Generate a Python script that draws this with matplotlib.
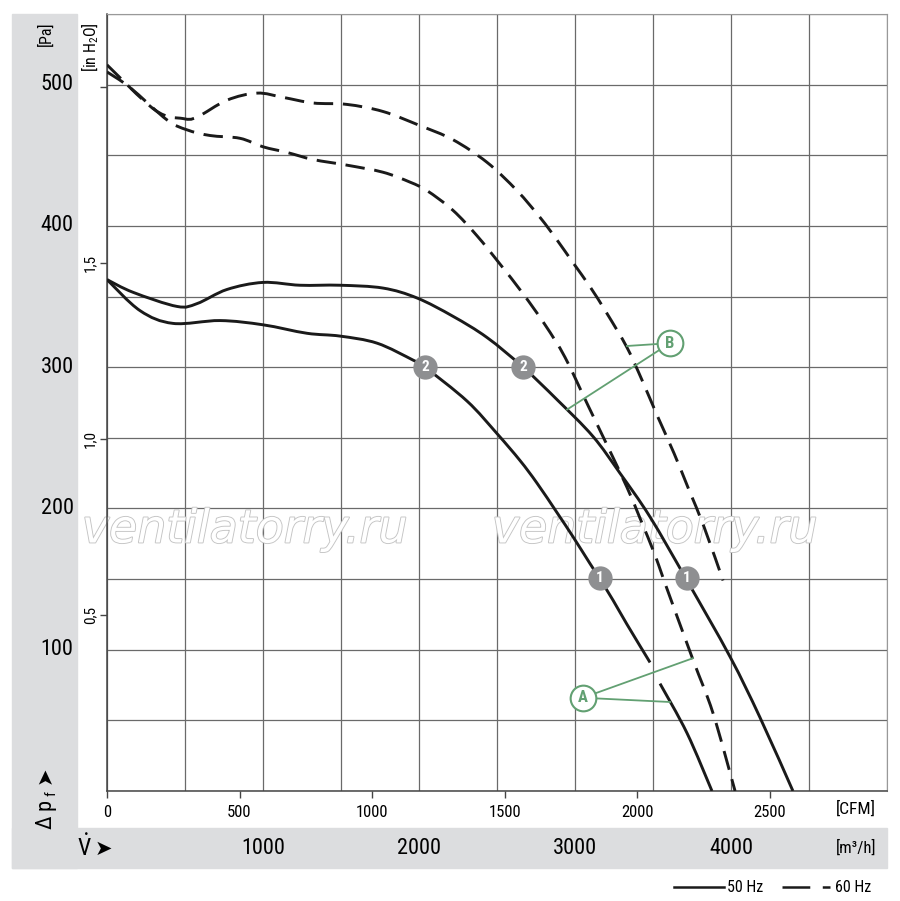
import numpy as np
import matplotlib
matplotlib.use("Agg")
import matplotlib.pyplot as plt
import matplotlib.font_manager as fm
import matplotlib.patheffects as pe
from matplotlib.patches import Rectangle, PathPatch
from matplotlib.path import Path
from matplotlib.lines import Line2D
from matplotlib.transforms import blended_transform_factory as blend

names = set(fm.get_font_names())
main_font = next((f for f in ['Liberation Sans Narrow', 'Roboto Condensed', 'Roboto'] if f in names), 'DejaVu Sans')
plt.rcParams['font.family'] = [main_font, 'DejaVu Sans']
plt.rcParams['mathtext.fontset'] = 'custom'
plt.rcParams['mathtext.rm'] = main_font
plt.rcParams['lines.scale_dashes'] = False

# flow in m3/h, pressure in Pa
flow_60_a = [0, 308, 487, 577, 769, 962, 1128, 1321, 1538, 1769, 2006, 2218, 2436, 2628, 2776,
             2885, 2987, 3096, 3205, 3333, 3429, 3526, 3635, 3731, 3827, 3949]
pres_60_a = [514, 482, 476, 477, 489, 494, 491, 487, 486, 481, 471, 461, 445, 425, 406,
             390, 374, 357, 338, 314, 291, 266, 239, 213, 187, 149]

flow_60_b = [0, 147, 385, 513, 660, 853, 1000, 1154, 1321, 1538, 1769, 1942, 2051, 2218, 2372,
             2519, 2667, 2808, 2936, 3083, 3205, 3333, 3417, 3513, 3577, 3756, 3885, 4026]
pres_60_b = [509, 498, 475, 468, 464, 462, 456, 452, 447, 443, 438, 431, 425, 411, 393,
             373, 352, 330, 307, 273, 245, 215, 193, 167, 147, 93, 55, 0]

flow_50_a = [0, 167, 449, 577, 769, 1000, 1237, 1494, 1769, 1987, 2218, 2436, 2667, 2885,
             3115, 3288, 3481, 3718, 3994, 4186, 4397]
pres_50_a = [362, 353, 343, 345, 355, 360, 358, 358, 356, 349, 336, 321, 300, 277,
             251, 225, 194, 149, 95, 52, 0]

flow_50_b = [0, 212, 423, 724, 1000, 1282, 1494, 1731, 1962, 2038, 2308, 2500, 2647, 2756,
             2885, 2987, 3096, 3160, 3244, 3333, 3481, np.nan, 3545, 3718, 3878]
pres_50_b = [362, 340, 331, 333, 330, 324, 322, 317, 305, 300, 276, 253, 234, 218,
             197, 180, 161, 150, 135, 118, 91, np.nan, 76, 41, 0]

marker_flow = [2038, 2667, 3160, 3718]
marker_pres = [300, 300, 151, 151]
marker_text = ['2', '2', '1', '1']

callouts = {
    'B': ((3609, 317), [(3333, 315), (2949, 270)]),
    'A': ((3051, 66), [(3756, 94), (3609, 63)]),
}

pa_labels = [100, 200, 300, 400, 500]
inh2o_ticks = [0.5, 1.0, 1.5, 2.0]
inh2o_labels = ['0,5', '1,0', '1,5', '']
cfm_ticks = [0, 500, 1000, 1500, 2000, 2500]
m3h_labels = [1000, 2000, 3000, 4000]

W, H = 900, 901
fig = plt.figure(figsize=(9, 9.01), dpi=100)


def fx(px):
    return px / W


def fy(py):
    return 1 - py / H


def smooth_path(xs, ys):
    # catmull-rom through the read points, drawn as cubic bezier pieces
    xs = np.asarray(xs, float)
    ys = np.asarray(ys, float)
    verts, codes = [], []
    breaks = np.where(np.isnan(xs))[0]
    starts = np.r_[0, breaks + 1]
    ends = np.r_[breaks, len(xs)]
    for s, e in zip(starts, ends):
        p = np.column_stack([xs[s:e], ys[s:e]])
        n = len(p)
        verts.append(p[0]); codes.append(Path.MOVETO)
        for i in range(n - 1):
            p0 = p[i - 1] if i > 0 else p[i]
            p3 = p[i + 2] if i + 2 < n else p[i + 1]
            c1 = p[i] + (p[i + 1] - p0) / 6
            c2 = p[i + 1] - (p3 - p[i]) / 6
            verts += [c1, c2, p[i + 1]]
            codes += [Path.CURVE4] * 3
    return Path(verts, codes)


band = '#dcdddf'
fig.patches.append(Rectangle((fx(12), fy(868)), fx(77) - fx(12), fy(14) - fy(868),
                             transform=fig.transFigure, color=band, zorder=0))
fig.patches.append(Rectangle((fx(12), fy(868)), fx(887) - fx(12), fy(828) - fy(868),
                             transform=fig.transFigure, color=band, zorder=0))

ax = fig.add_axes([fx(107), fy(791), fx(887) - fx(107), fy(14) - fy(791)])
ax.set_xlim(0, 5000)
ax.set_ylim(0, 550)
ax.set_xticks(np.arange(0, 5001, 500))
ax.set_yticks(np.arange(0, 551, 50))
ax.tick_params(length=0, labelbottom=False, labelleft=False)
ax.grid(True, color='#6a6a6a', lw=0.9)
ax.set_axisbelow(True)
for s in ['top', 'right']:
    ax.spines[s].set_color('#999999')
for s in ['left', 'bottom']:
    ax.spines[s].set_color('#444444')
    ax.spines[s].set_linewidth(1.1)

# watermark
for cx in [245, 655]:
    ax.text(fx(cx), fy(530), 'ventilatorry.ru', transform=fig.transFigure, fontsize=33,
            family='DejaVu Sans', style='italic', color='white', ha='center', va='center',
            zorder=1, clip_on=False,
            path_effects=[pe.Stroke(linewidth=1.3, foreground='#c4c4c4'), pe.Normal()])

lw = 2.1
curves = [
    (flow_60_a, pres_60_a, (0, (14, 7))),
    (flow_60_b, pres_60_b, (0, (14, 7))),
    (flow_50_a, pres_50_a, '-'),
    (flow_50_b, pres_50_b, '-'),
]
for xs, ys, ls in curves:
    ax.add_patch(PathPatch(smooth_path(xs, ys), fill=False, edgecolor='#1a1a1a', lw=lw,
                           linestyle=ls, capstyle='butt', zorder=3))

for v, p, t in zip(marker_flow, marker_pres, marker_text):
    ax.plot(v, p, 'o', ms=17.5, mfc='#8e8f91', mec='none', zorder=5)
    ax.text(v, p, t, color='white', fontsize=11, fontweight='bold', ha='center',
            va='center', zorder=6)

green = '#62a072'
for lab, ((lv, lp), targets) in callouts.items():
    for tv, tp in targets:
        ax.plot([lv, tv], [lp, tp], color=green, lw=1.3, zorder=4)
    ax.plot(lv, lp, 'o', ms=18.5, mfc='white', mec=green, mew=1.5, zorder=5)
    ax.text(lv, lp, lab, color=green, fontsize=12, fontweight='bold', ha='center',
            va='center', zorder=6)

# inch H2O axis
sec_y = ax.secondary_yaxis('left', functions=(lambda p: p / 249.09, lambda i: i * 249.09))
sec_y.set_yticks(inh2o_ticks, labels=inh2o_labels)
sec_y.tick_params(direction='out', length=5, width=1, color='#444444', labelsize=11, pad=2)
for lbl in sec_y.get_yticklabels():
    lbl.set_rotation(90)
    lbl.set_va('center')
sec_y.spines['left'].set_visible(False)

# CFM axis
sec_x = ax.secondary_xaxis('bottom', functions=(lambda v: v / 1.699, lambda c: c * 1.699))
sec_x.set_xticks(cfm_ticks)
sec_x.tick_params(direction='out', length=5, width=1, color='#444444', labelsize=12, pad=5)
sec_x.spines['bottom'].set_visible(False)

# Pa labels in grey band
tr_pa = blend(fig.transFigure, ax.transData)
for p in pa_labels:
    fig.text(fx(57), p, str(p), transform=tr_pa, fontsize=16, ha='center', va='center')

tr_m3 = blend(ax.transData, fig.transFigure)
for v in m3h_labels:
    fig.text(v, fy(848), str(v), transform=tr_m3, fontsize=16, ha='center', va='center')

fig.text(fx(876), fy(848), '[m³/h]', fontsize=12, ha='right', va='center')
fig.text(fx(876), fy(809), '[CFM]', fontsize=12.5, ha='right', va='center')
fig.text(fx(46), fy(22), '[Pa]', fontsize=11.5, rotation=90, ha='center', va='top')
fig.text(fx(90), fy(22), '[in H$_2$O]', fontsize=11.5, rotation=90, ha='center', va='top')

# axis symbols
fig.text(fx(77), fy(848), r'$\dot{\mathrm{V}}$', fontsize=17, ha='left', va='center')
fig.text(fx(95), fy(849), '➤', fontsize=15, ha='left', va='center', family=['DejaVu Sans'])
fig.text(fx(46), fy(829), 'Δ', fontsize=16, rotation=90, ha='center', va='bottom')
fig.text(fx(45), fy(810), 'p', fontsize=16, rotation=90, ha='center', va='bottom')
fig.text(fx(51), fy(796), 'f', fontsize=11, rotation=90, ha='center', va='bottom')
fig.text(fx(45), fy(784), '➤', fontsize=15, rotation=90, ha='center', va='bottom',
         family=['DejaVu Sans'])

# legend
fig.add_artist(Line2D([fx(674), fx(724)], [fy(887), fy(887)], color='#1a1a1a', lw=1.8,
                      transform=fig.transFigure))
fig.text(fx(727), fy(887), '50 Hz', fontsize=11.5, ha='left', va='center')
fig.add_artist(Line2D([fx(782), fx(830)], [fy(887), fy(887)], color='#1a1a1a', lw=1.8,
                      dashes=(20, 9), transform=fig.transFigure))
fig.text(fx(835), fy(887), '60 Hz', fontsize=11.5, ha='left', va='center')

fig.savefig('out.png', dpi=100)
